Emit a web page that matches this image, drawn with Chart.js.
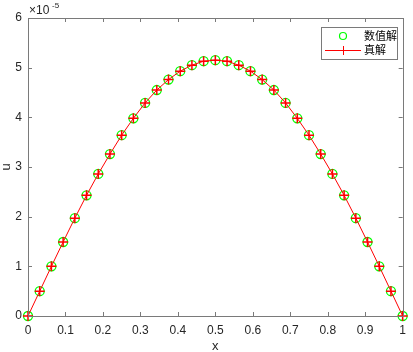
<!DOCTYPE html>
<html>
<head>
<meta charset="utf-8">
<script src="https://cdn.jsdelivr.net/npm/chart.js@4.4.0/dist/chart.umd.min.js"></script>
<style>
  html, body { margin: 0; padding: 0; background: #fff; }
  #wrap { width: 413px; height: 352px; }
</style>
</head>
<body>
<div id="wrap"><canvas id="c"></canvas></div>
<script>
// x positions (h = 1/32)
const xs = [0, 0.03125, 0.0625, 0.09375, 0.125, 0.15625, 0.1875, 0.21875, 0.25,
  0.28125, 0.3125, 0.34375, 0.375, 0.40625, 0.4375, 0.46875, 0.5,
  0.53125, 0.5625, 0.59375, 0.625, 0.65625, 0.6875, 0.71875, 0.75,
  0.78125, 0.8125, 0.84375, 0.875, 0.90625, 0.9375, 0.96875, 1];
// u values in units of 1e-5
const numeric = [0, 0.50, 1.00, 1.49, 1.97, 2.43, 2.86, 3.26, 3.64, 3.98, 4.29, 4.55, 4.76,
  4.93, 5.05, 5.13, 5.15, 5.13, 5.05, 4.93, 4.76, 4.55, 4.29, 3.98, 3.64, 3.26, 2.86,
  2.43, 1.97, 1.49, 1.00, 0.50, 0];
const exact = [0, 0.50, 1.00, 1.49, 1.97, 2.43, 2.86, 3.26, 3.64, 3.98, 4.29, 4.55, 4.76,
  4.93, 5.05, 5.13, 5.15, 5.13, 5.05, 4.93, 4.76, 4.55, 4.29, 3.98, 3.64, 3.26, 2.86,
  2.43, 1.97, 1.49, 1.00, 0.50, 0];
const seriesNames = ["数值解", "真解"];
const xTicks = [0, 0.1, 0.2, 0.3, 0.4, 0.5, 0.6, 0.7, 0.8, 0.9, 1];
const yTicks = [0, 1, 2, 3, 4, 5, 6];
const scaleExp = 1e-5;

const axisColor = "#7a7a7a";
const textColor = "#262626";
const fam = "'Liberation Sans', Arial, sans-serif";
const font = { family: fam, size: 12 };

// inward ticks, box, axis labels, exponent label and legend
const matlabBox = {
  id: "matlabBox",
  afterDraw(chart) {
    const ctx = chart.ctx;
    const a = chart.chartArea;
    const sx = chart.scales.x, sy = chart.scales.y;
    ctx.save();
    ctx.strokeStyle = axisColor;
    ctx.lineWidth = 1;
    ctx.beginPath();
    ctx.rect(Math.round(a.left) + 0.5, Math.round(a.top) + 0.5,
      Math.round(a.right - a.left), Math.round(a.bottom - a.top));
    xTicks.forEach(v => {
      const p = Math.round(sx.getPixelForValue(v)) + 0.5;
      ctx.moveTo(p, a.bottom); ctx.lineTo(p, a.bottom - 4);
      ctx.moveTo(p, a.top); ctx.lineTo(p, a.top + 4);
    });
    yTicks.forEach(v => {
      const p = Math.round(sy.getPixelForValue(v * scaleExp)) + 0.5;
      ctx.moveTo(a.left, p); ctx.lineTo(a.left + 4, p);
      ctx.moveTo(a.right, p); ctx.lineTo(a.right - 4, p);
    });
    ctx.stroke();

    // axis titles
    ctx.fillStyle = textColor;
    ctx.font = "13px " + fam;
    ctx.textAlign = "center";
    ctx.textBaseline = "middle";
    ctx.fillText("x", (a.left + a.right) / 2, 346);
    ctx.save();
    ctx.translate(6, (a.top + a.bottom) / 2);
    ctx.rotate(-Math.PI / 2);
    ctx.fillText("u", 0, 0);
    ctx.restore();

    // exponent label
    ctx.textAlign = "left";
    ctx.textBaseline = "alphabetic";
    ctx.font = "12px " + fam;
    ctx.fillText("\u00d710", a.left + 1, 14);
    ctx.font = "8px " + fam;
    ctx.fillText("-5", a.left + 24, 8);

    // legend
    const lx = 321, ly = 27, lw = 76, lh = 32;
    ctx.fillStyle = "#fff";
    ctx.fillRect(lx, ly, lw, lh);
    ctx.strokeStyle = axisColor;
    ctx.strokeRect(lx + 0.5, ly + 0.5, lw, lh);
    // entry 1: green circle
    ctx.strokeStyle = "#00ff00";
    ctx.lineWidth = 1.2;
    ctx.beginPath();
    ctx.arc(lx + 22, ly + 9, 3.5, 0, Math.PI * 2);
    ctx.stroke();
    // entry 2: red line + plus
    ctx.strokeStyle = "#ff0000";
    ctx.lineWidth = 1;
    ctx.beginPath();
    ctx.moveTo(lx + 4, ly + 23.5); ctx.lineTo(lx + 40, ly + 23.5);
    ctx.moveTo(lx + 22.5, ly + 19); ctx.lineTo(lx + 22.5, ly + 28);
    ctx.moveTo(lx + 18, ly + 23.5); ctx.lineTo(lx + 27, ly + 23.5);
    ctx.stroke();
    ctx.fillStyle = "#000";
    ctx.font = "11px 'Noto Sans CJK SC', sans-serif";
    ctx.textBaseline = "middle";
    ctx.fillText(seriesNames[0], lx + 43, ly + 9);
    ctx.fillText(seriesNames[1], lx + 43, ly + 23);
    ctx.restore();
  }
};

new Chart(document.getElementById("c"), {
  type: "line",
  data: {
    datasets: [
      {
        label: seriesNames[1],
        data: xs.map((x, i) => ({ x: x, y: exact[i] * scaleExp })),
        borderColor: "#ff0000",
        borderWidth: 1,
        pointStyle: "cross",
        pointRadius: 5,
        pointBorderColor: "#ff0000",
        pointBorderWidth: 1.5,
        tension: 0,
        clip: false,
        order: 1,
      },
      {
        label: seriesNames[0],
        data: xs.map((x, i) => ({ x: x, y: numeric[i] * scaleExp })),
        showLine: false,
        pointStyle: "circle",
        pointRadius: 4.5,
        pointBorderColor: "#00ff00",
        pointBackgroundColor: "rgba(0,0,0,0)",
        pointBorderWidth: 1.3,
        clip: false,
        order: 2,
      },
    ],
  },
  options: {
    responsive: true,
    maintainAspectRatio: false,
    animation: false,
    layout: { padding: { top: 18, right: 6, left: 0, bottom: 0 } },
    plugins: {
      legend: { display: false },
      tooltip: { enabled: false },
    },
    scales: {
      x: {
        type: "linear",
        min: 0,
        max: 1,
        afterBuildTicks: s => { s.ticks = xTicks.map(v => ({ value: v })); },
        afterFit: s => { s.height = 36; },
        grid: { display: false, drawTicks: false },
        border: { display: false },
        ticks: { color: textColor, font: font, padding: 7, maxRotation: 0,
          callback: v => String(v) },
      },
      y: {
        type: "linear",
        min: 0,
        max: 6 * scaleExp,
        afterBuildTicks: s => { s.ticks = yTicks.map(v => ({ value: v * scaleExp })); },
        afterFit: s => { s.width = 28; },
        grid: { display: false, drawTicks: false },
        border: { display: false },
        ticks: { color: textColor, font: font, padding: 6,
          callback: v => String(Math.round(v / scaleExp)) },
      },
    },
  },
  plugins: [matlabBox],
});
</script>
</body>
</html>
